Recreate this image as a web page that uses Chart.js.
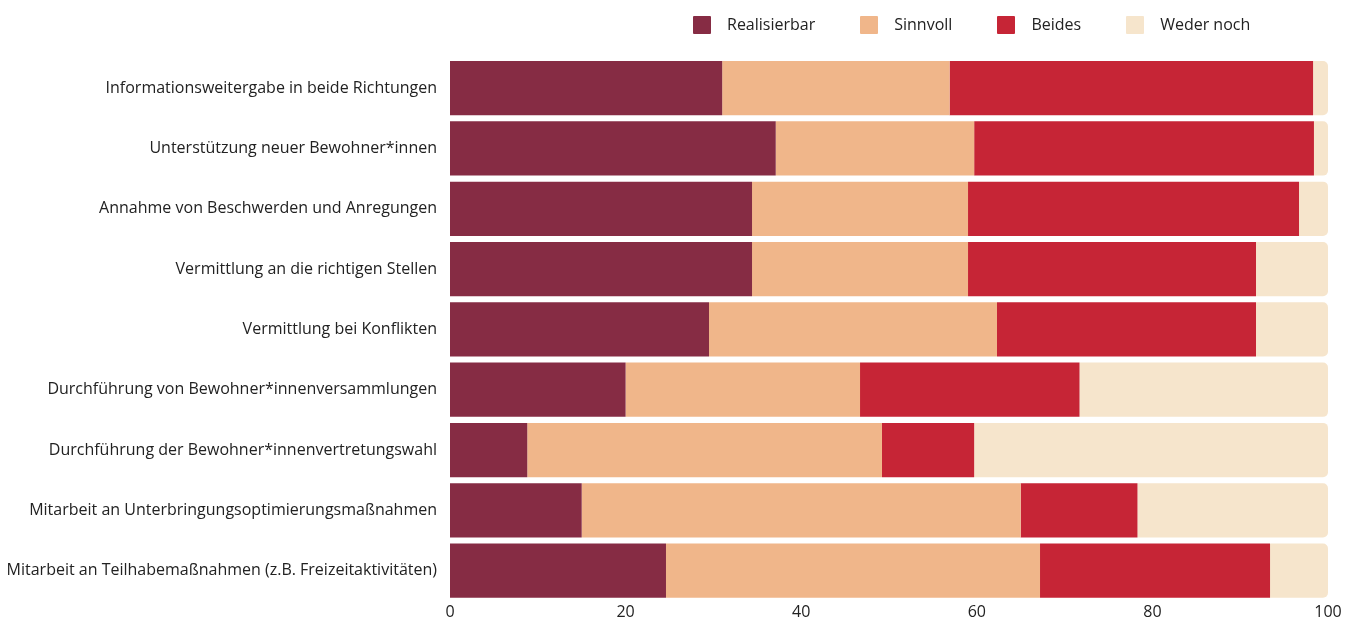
<!DOCTYPE html>
<html lang="de">
<head>
<meta charset="utf-8">
<script src="https://cdn.jsdelivr.net/npm/chart.js@4/dist/chart.umd.min.js"></script>
<style>
  body { margin: 0; background: #fff; }
  #wrap { position: relative; width: 1354px; height: 624px; }
  #legend {
    position: absolute; left: 693px; top: 14px;
    display: flex; align-items: center;
    font-family: "Open Sans", sans-serif; font-size: 16px; line-height: 21px; color: #222;
  }
  .item { display: flex; align-items: center; margin-right: 45px; }
  .box { width: 18px; height: 18px; margin-right: 16px; border-radius: 1px; }
</style>
</head>
<body>
<div id="wrap">
  <canvas id="chart"></canvas>
  <div id="legend"></div>
</div>
<script>
// Kategorien (y-Achse)
const kategorien = [
    "Informationsweitergabe in beide Richtungen",
    "Unterstützung neuer Bewohner*innen",
    "Annahme von Beschwerden und Anregungen",
    "Vermittlung an die richtigen Stellen",
    "Vermittlung bei Konflikten",
    "Durchführung von Bewohner*innenversammlungen",
    "Durchführung der Bewohner*innenvertretungswahl",
    "Mitarbeit an Unterbringungsoptimierungsmaßnahmen",
    "Mitarbeit an Teilhabemaßnahmen (z.B. Freizeitaktivitäten)"
];

// Werte in Prozent
const realisierbar = [31.0, 37.1, 34.4, 34.4, 29.5, 20.0, 8.8, 15.0, 24.6];
const sinnvoll     = [25.9, 22.6, 24.6, 24.6, 32.8, 26.7, 40.4, 50.0, 42.6];
const beides       = [41.4, 38.7, 37.7, 32.8, 29.5, 25.0, 10.5, 13.3, 26.2];
const wederNoch    = [1.7, 1.6, 3.3, 8.2, 8.2, 28.3, 40.3, 21.7, 6.6];

const serienNamen = ["Realisierbar", "Sinnvoll", "Beides", "Weder noch"];
const farben = ["#862c44", "#f0b68a", "#c62536", "#f6e5cc"];
const xTicks = [0, 20, 40, 60, 80, 100];

const textFarbe = "#222";
const schrift = { family: "'Open Sans', sans-serif", size: 16 };

const serien = [realisierbar, sinnvoll, beides, wederNoch];
const datasets = serien.map((werte, i) => ({
    label: serienNamen[i],
    data: werte,
    backgroundColor: farben[i],
    borderWidth: 0,
    borderSkipped: false,
    // nur das letzte Segment bekommt rechts runde Ecken
    borderRadius: i === serien.length - 1
        ? { topLeft: 0, bottomLeft: 0, topRight: 5, bottomRight: 5 }
        : 0,
    categoryPercentage: 1,
    barPercentage: 0.9
}));

// Legende als HTML
const legendEl = document.getElementById("legend");
serienNamen.forEach((name, i) => {
    const item = document.createElement("div");
    item.className = "item";
    const box = document.createElement("span");
    box.className = "box";
    box.style.background = farben[i];
    const txt = document.createElement("span");
    txt.textContent = name;
    item.appendChild(box);
    item.appendChild(txt);
    legendEl.appendChild(item);
});

new Chart(document.getElementById("chart"), {
    type: "bar",
    data: { labels: kategorien, datasets },
    options: {
        indexAxis: "y",
        responsive: true,
        maintainAspectRatio: false,
        animation: false,
        layout: { padding: { top: 58, right: 26, bottom: 0, left: 0 } },
        plugins: {
            legend: { display: false },
            tooltip: { enabled: false }
        },
        scales: {
            x: {
                stacked: true,
                min: 0,
                max: 100,
                afterBuildTicks: (axis) => { axis.ticks = xTicks.map(v => ({ value: v })); },
                grid: { display: false, drawTicks: false },
                border: { display: false },
                ticks: { color: textFarbe, font: schrift, padding: 2 }
            },
            y: {
                stacked: true,
                grid: { display: false, drawTicks: false },
                border: { display: false },
                ticks: { color: textFarbe, font: schrift, padding: 13 },
                afterFit: (axis) => { axis.width = 450; }
            }
        }
    }
});
</script>
</body>
</html>
